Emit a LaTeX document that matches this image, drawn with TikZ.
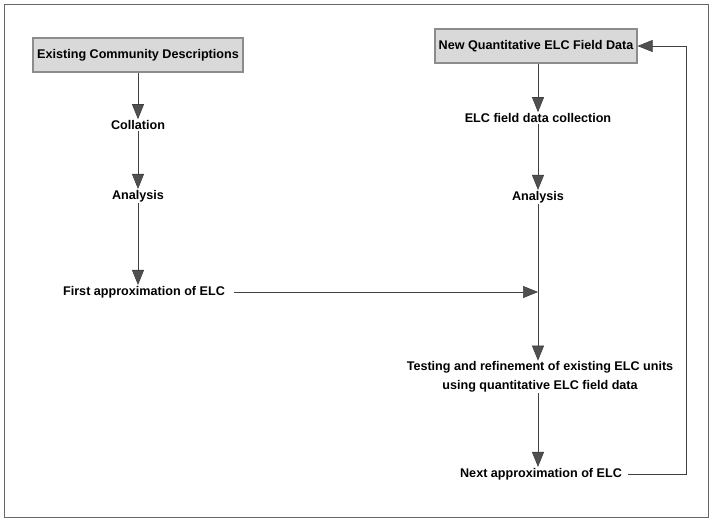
\documentclass[tikz,border=0pt]{standalone}
\usepackage{fontspec}
\setmainfont{Liberation Sans}
\usetikzlibrary{arrows.meta}
\definecolor{boxfill}{HTML}{D9D9D9}
\definecolor{boxline}{HTML}{8C8C8C}
\definecolor{tipfill}{HTML}{505050}
\begin{document}
\begin{tikzpicture}[x=1pt,y=-1pt,
  lbl/.style={font=\bfseries\fontsize{12.6}{18.5}\selectfont, inner sep=1pt, align=center},
  hdr/.style={lbl, draw=boxline, line width=1.2pt, fill=boxfill, minimum height=34pt, inner xsep=2pt},
  arr/.style={draw=black!75, line width=0.6pt, -{Triangle[length=15pt,width=12pt,fill=tipfill]}}]
\useasboundingbox (0,0) rectangle (712,522);
\draw[black!60, line width=0.8pt] (4,4) rectangle (708,517);
% left column
\node[hdr, minimum width=210pt] (b1) at (138,55) {Existing Community Descriptions};
\node[lbl] (col) at (138,125) {Collation};
\node[lbl] (an1) at (138,196) {Analysis};
\node[lbl] (fa) at (144,292) {First approximation of ELC};
% right column
\node[hdr, minimum width=202pt] (b2) at (536,46) {New Quantitative ELC Field Data};
\node[lbl] (fdc) at (538,118) {ELC field data collection};
\node[lbl] (an2) at (538,197) {Analysis};
\node[lbl] (test) at (540,377) {Testing and refinement of existing ELC units\\using quantitative ELC field data};
\node[lbl] (na) at (541,474) {Next approximation of ELC};
\coordinate (j) at (538,292);
\coordinate (c2) at (686,46);
% connectors
\draw[arr] (b1.south) -- (col.north);
\draw[arr] (col.south) -- (an1.north);
\draw[arr] (an1.south) -- (fa.north -| an1.south);
\draw[arr] (b2.south -| fdc.north) -- (fdc.north);
\draw[arr] (fdc.south) -- (an2.north);
\draw[arr] (an2.south) -- (test.north -| an2.south);
\draw[arr] (fa.east) ++(8,0) -- (j);
\draw[arr] (test.south -| an2.south) -- (na.north -| an2.south);
\draw[arr] (na.east) ++(5,0) -| (c2) -- (b2.east);
\end{tikzpicture}
\end{document}
